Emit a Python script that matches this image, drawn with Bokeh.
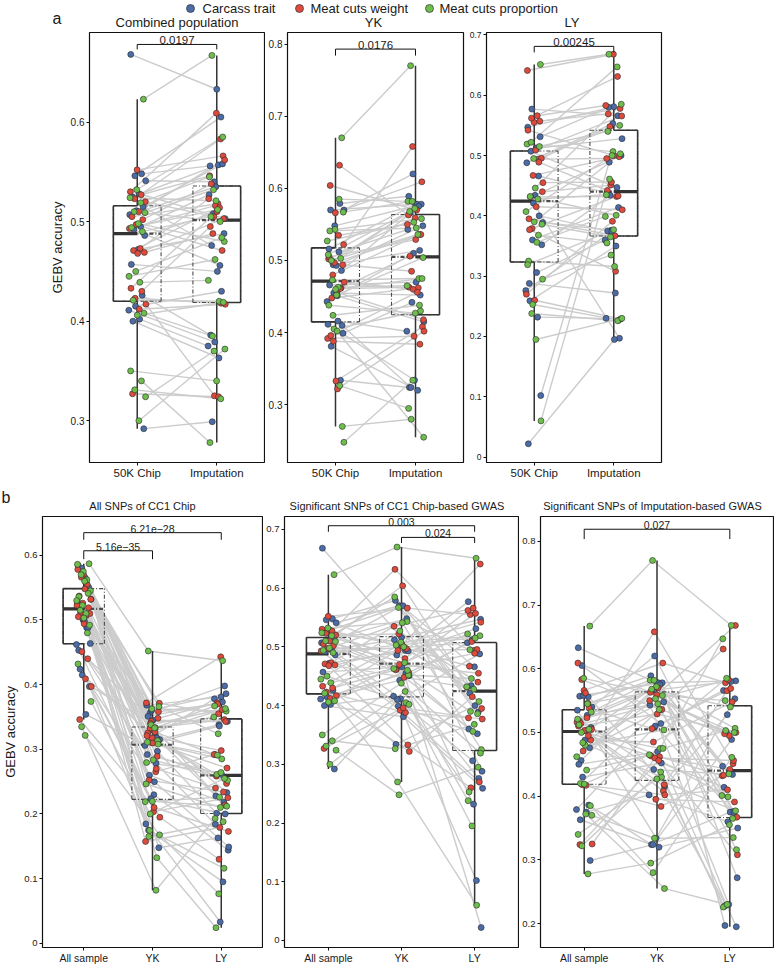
import numpy as np
from bokeh.plotting import figure
from bokeh.layouts import column, row
from bokeh.models import Range1d, FixedTicker
from bokeh.core.properties import value
from bokeh.embed import file_html
from bokeh.resources import INLINE

FONT = "Liberation Sans"
DARK = "#333333"
DASHC = "#4a4a4a"
LINEC = "#cccccc"
TXT = "#1a1a1a"

# ---------------- data ----------------
type_names = ["Carcass trait", "Meat cuts weight", "Meat cuts proportion"]
type_colors = ["#4B6CA6", "#DE4A3C", "#6DBE4C"]
trait_type = [0] * 20 + [1] * 20 + [2] * 20

# Combined population, 50K chip (also "All sample" of CC1 chip-based GWAS SNPs)
comb_chip = [0.668, 0.548, 0.546, 0.541, 0.528, 0.525, 0.515, 0.511, 0.507, 0.495, 0.492, 0.486, 0.472, 0.457, 0.426, 0.415, 0.411, 0.402, 0.400, 0.292,
             0.552, 0.530, 0.527, 0.523, 0.520, 0.510, 0.505, 0.502, 0.497, 0.493, 0.473, 0.471, 0.469, 0.468, 0.433, 0.430, 0.423, 0.417, 0.412, 0.327,
             0.623, 0.532, 0.524, 0.519, 0.510, 0.509, 0.498, 0.494, 0.490, 0.450, 0.445, 0.439, 0.421, 0.408, 0.406, 0.350, 0.340, 0.331, 0.324, 0.300]
# Combined population, imputation
comb_imp = [0.633, 0.556, 0.605, 0.540, 0.503, 0.557, 0.476, 0.558, 0.535, 0.527, 0.456, 0.508, 0.488, 0.450, 0.386, 0.430, 0.379, 0.375, 0.363, 0.299,
            0.566, 0.609, 0.546, 0.583, 0.505, 0.562, 0.518, 0.538, 0.471, 0.516, 0.523, 0.514, 0.488, 0.503, 0.510, 0.495, 0.418, 0.325, 0.417, 0.324,
            0.667, 0.585, 0.521, 0.545, 0.500, 0.532, 0.480, 0.512, 0.505, 0.484, 0.462, 0.441, 0.420, 0.385, 0.419, 0.340, 0.278, 0.322, 0.370, 0.372]
# YK, 50K chip
yk_chip = [0.516, 0.579, 0.494, 0.570, 0.451, 0.570, 0.486, 0.548, 0.4115, 0.512, 0.499, 0.399, 0.493, 0.466, 0.334, 0.455, 0.443, 0.416, 0.381, 0.410,
           0.566, 0.502, 0.632, 0.480, 0.522, 0.456, 0.604, 0.462, 0.497, 0.392, 0.535, 0.448, 0.494, 0.333, 0.505, 0.461, 0.388, 0.470, 0.322, 0.396,
           0.670, 0.543, 0.508, 0.585, 0.473, 0.567, 0.452, 0.541, 0.503, 0.405, 0.527, 0.463, 0.500, 0.270, 0.460, 0.438, 0.3265, 0.424, 0.248, 0.402]
# YK, imputation
yk_imp = [0.578, 0.589, 0.514, 0.620, 0.415, 0.578, 0.566, 0.578, 0.334, 0.543, 0.575, 0.442, 0.548, 0.470, 0.324, 0.452, 0.510, 0.402, 0.320, 0.324,
          0.609, 0.559, 0.563, 0.536, 0.658, 0.418, 0.570, 0.506, 0.536, 0.395, 0.550, 0.462, 0.485, 0.408, 0.529, 0.463, 0.384, 0.460, 0.402, 0.456,
          0.770, 0.558, 0.572, 0.582, 0.475, 0.582, 0.504, 0.545, 0.568, 0.430, 0.553, 0.465, 0.536, 0.280, 0.475, 0.427, 0.295, 0.438, 0.334, 0.255]
# LY, 50K chip
ly_chip = [0.547, 0.466, 0.577, 0.389, 0.512, 0.288, 0.531, 0.421, 0.488, 0.232, 0.507, 0.352, 0.434, 0.022, 0.400, 0.360, 0.276, 0.306, 0.259, 0.102,
           0.555, 0.641, 0.494, 0.562, 0.440, 0.509, 0.395, 0.557, 0.467, 0.270, 0.566, 0.4315, 0.4955, 0.260, 0.542, 0.489, 0.379, 0.455, 0.415, 0.377,
           0.651, 0.495, 0.519, 0.428, 0.522, 0.386, 0.446, 0.325, 0.515, 0.253, 0.407, 0.356, 0.432, 0.060, 0.390, 0.319, 0.368, 0.238, 0.295, 0.195]
# LY, imputation
ly_imp = [0.581, 0.438, 0.566, 0.376, 0.528, 0.272, 0.580, 0.197, 0.553, 0.230, 0.447, 0.434, 0.500, 0.195, 0.375, 0.414, 0.374, 0.360, 0.350, 0.489,
          0.578, 0.668, 0.495, 0.631, 0.451, 0.5655, 0.367, 0.569, 0.498, 0.391, 0.583, 0.432, 0.548, 0.229, 0.500, 0.442, 0.433, 0.456, 0.410, 0.308,
          0.668, 0.550, 0.5065, 0.435, 0.647, 0.365, 0.585, 0.316, 0.540, 0.227, 0.500, 0.399, 0.401, 0.461, 0.503, 0.377, 0.355, 0.226, 0.335, 0.230]
# All SNPs of CC1 chip
all_all = [0.584, 0.552, 0.580, 0.532, 0.565, 0.524, 0.550, 0.500, 0.528, 0.488, 0.520, 0.4636, 0.498, 0.453, 0.488, 0.415, 0.462, 0.354, 0.424, 0.397,
           0.570, 0.578, 0.555, 0.566, 0.532, 0.548, 0.537, 0.519, 0.526, 0.5226, 0.507, 0.511, 0.510, 0.494, 0.505, 0.440, 0.451, 0.397, 0.409, 0.346,
           0.587, 0.575, 0.586, 0.562, 0.570, 0.545, 0.560, 0.536, 0.541, 0.5226, 0.530, 0.510, 0.515, 0.492, 0.503, 0.432, 0.480, 0.335, 0.374, 0.3215]
all_yk = [0.3297, 0.368, 0.2785, 0.3568, 0.315, 0.2297, 0.351, 0.2969, 0.3605, 0.1846, 0.3227, 0.260, 0.1477, 0.345, 0.2918, 0.3174, 0.2236, 0.306, 0.2497, 0.175,
          0.348, 0.3174, 0.3718, 0.2651, 0.3323, 0.3713, 0.2036, 0.3251, 0.289, 0.3433, 0.1574, 0.327, 0.2523, 0.358, 0.3097, 0.321, 0.270, 0.340, 0.1949, 0.210,
          0.452, 0.3133, 0.3626, 0.2464, 0.3333, 0.1744, 0.366, 0.2836, 0.311, 0.1323, 0.338, 0.219, 0.333, 0.1651, 0.308, 0.2195, 0.2795, 0.082, 0.200, 0.1677]
all_ly = [0.233, 0.381, 0.184, 0.398, 0.338, 0.144, 0.373, 0.201, 0.386, 0.033, 0.378, 0.218, 0.163, 0.343, 0.261, 0.228, 0.200, 0.336, 0.149, 0.095,
          0.372, 0.247, 0.443, 0.292, 0.346, 0.355, 0.225, 0.3615, 0.2585, 0.343, 0.179, 0.292, 0.234, 0.370, 0.271, 0.298, 0.240, 0.214, 0.130, 0.173,
          0.437, 0.261, 0.359, 0.210, 0.367, 0.116, 0.324, 0.252, 0.285, 0.024, 0.363, 0.226, 0.350, 0.188, 0.291, 0.212, 0.264, 0.193, 0.255, 0.0765]

labels_a = ["50K Chip", "Imputation"]
labels_b = ["All sample", "YK", "LY"]
titles_a = ["Combined population", "YK", "LY"]
titles_b = ["All SNPs of CC1 Chip", "Significant SNPs of CC1 Chip-based GWAS",
            "Significant SNPs of Imputation-based GWAS"]

point_colors = [type_colors[t] for t in trait_type]


def jitter(n, g):
    return [(((i * 0.6180339887) + 0.37 * g + 0.13) % 1.0 - 0.5) * 0.22 for i in range(n)]


def make_panel(groups, labels, yr, yticks, fw, fh, bl, br, bt, bb,
               tick_fs, xlab_fs, sides, brackets, br_fs, ylabel=None):
    n = len(groups)
    p = figure(x_range=Range1d(0.4, n + 0.6), y_range=Range1d(*yr),
               frame_width=fw, frame_height=fh,
               min_border_left=bl, min_border_right=br,
               min_border_top=bt, min_border_bottom=bb,
               toolbar_location=None, tools="", output_backend="svg")
    p.grid.visible = False
    p.outline_line_color = "#111111"
    p.outline_line_width = 1.2
    p.background_fill_color = "white"
    p.border_fill_color = "white"

    xa = p.xaxis[0]
    xa.ticker = FixedTicker(ticks=list(range(1, n + 1)))
    xa.major_label_overrides = {i + 1: lab for i, lab in enumerate(labels)}
    ya = p.yaxis[0]
    ya.ticker = FixedTicker(ticks=yticks)
    ya.major_label_overrides = {t: f"{t:g}" for t in yticks}
    for ax, fs in ((xa, xlab_fs), (ya, tick_fs)):
        ax.axis_line_color = None
        ax.major_tick_out = 3
        ax.major_tick_in = 0
        ax.major_tick_line_color = "#111111"
        ax.minor_tick_line_color = None
        ax.major_label_text_font = FONT
        ax.major_label_text_font_size = fs
        ax.major_label_text_color = TXT
    xa.major_label_standoff = 1
    ya.major_label_standoff = 2
    if ylabel:
        ya.axis_label = ylabel
        ya.axis_label_text_font = FONT
        ya.axis_label_text_font_size = "13px"
        ya.axis_label_text_font_style = "normal"
        ya.axis_label_text_color = TXT
        ya.axis_label_standoff = 3

    npts = len(groups[0])
    xs_j = [[g + 1 + o for o in jitter(npts, g)] for g in range(n)]

    # connecting lines
    lx, ly = [], []
    for g in range(n - 1):
        for i in range(npts):
            lx.append([xs_j[g][i], xs_j[g + 1][i]])
            ly.append([groups[g][i], groups[g + 1][i]])
    p.multi_line(lx, ly, line_color=LINEC, line_width=1.4)

    # boxes
    w = 0.3
    for g, vals in enumerate(groups):
        c = g + 1
        v = np.asarray(vals)
        q1, med, q3 = np.percentile(v, [25, 50, 75])
        iqr = q3 - q1
        lo = v[v >= q1 - 1.5 * iqr].min()
        hi = v[v <= q3 + 1.5 * iqr].max()
        p.segment(x0=[c, c], y0=[q3, q1], x1=[c, c], y1=[hi, lo],
                  line_color=DARK, line_width=1.5)
        p.segment(x0=[c - w, c + w, c - w, c - w], y0=[q1, q1, q1, q3],
                  x1=[c - w, c + w, c + w, c + w], y1=[q3, q3, q1, q3],
                  line_color=DASHC, line_width=1.1, line_dash="4 2 1 2")
        p.segment(x0=[c - w], y0=[med], x1=[c + w], y1=[med],
                  line_color=DASHC, line_width=2.2, line_dash="4 2 1 2")
        s = sides[g]
        if s != 0:
            xo = c + s * w
            p.segment(x0=[xo, xo, xo], y0=[q1, q1, q3], x1=[xo, c, c], y1=[q3, q1, q3],
                      line_color=DARK, line_width=1.6)
            p.segment(x0=[xo], y0=[med], x1=[c], y1=[med],
                      line_color=DARK, line_width=3.2)

    # points
    for g in range(n):
        p.scatter(xs_j[g], groups[g], size=6, fill_color=point_colors,
                  line_color="#2a2a2a", line_width=0.6)

    # significance brackets
    for (g1, g2, ybar, ytick, txt) in brackets:
        p.line([g1, g1, g2, g2], [ytick, ybar, ybar, ytick], line_color="#111111", line_width=1)
        p.text(x=[(g1 + g2) / 2], y=[ybar], text=[txt], text_font=value(FONT),
               text_font_size=br_fs, text_align="center", text_baseline="bottom",
               text_color=TXT)
    return p


def header(h, texts):
    p = figure(width=770, height=h, x_range=Range1d(0, 770), y_range=Range1d(h, 0),
               min_border_left=0, min_border_right=0, min_border_top=0, min_border_bottom=0,
               toolbar_location=None, tools="", output_backend="svg",
               x_axis_location=None, y_axis_location=None)
    p.grid.visible = False
    p.outline_line_color = None
    p.background_fill_color = "white"
    p.border_fill_color = "white"
    for (xs, ys, tx, fs, align) in texts:
        p.text(x=xs, y=ys, text=tx, text_font=value(FONT), text_font_size=fs,
               text_align=align, text_baseline="middle", text_color=TXT)
    return p


# header with legend, panel letter a and titles
h1 = header(31, [
    ([202, 310, 439], [8, 8, 8], type_names, "13px", "left"),
    ([52], [18], ["a"], "16px", "left"),
    ([176.5, 373, 571.5], [22, 22, 22], titles_a, "13px", "center"),
])
h1.scatter([190, 299, 429], [8, 8, 8], size=8, fill_color=type_colors,
           line_color="#333333", line_width=0.7)

a1 = make_panel([comb_chip, comb_imp], labels_a, (0.258, 0.690), [0.3, 0.4, 0.5, 0.6],
                175, 430, 89, 1, 1, 22, "10px", "11.5px", [-1, 1],
                [(1, 2, 0.678, 0.673, "0.0197")], "11.5px", ylabel="GEBV accuracy")
a2 = make_panel([yk_chip, yk_imp], labels_a, (0.220, 0.816), [0.3, 0.4, 0.5, 0.6, 0.7, 0.8],
                176, 430, 20, 2, 1, 22, "10px", "11.5px", [-1, 1],
                [(1, 2, 0.793, 0.784, "0.0176")], "11.5px")
a3 = make_panel([ly_chip, ly_imp], labels_a, (-0.009, 0.704), [0, 0.1, 0.2, 0.3, 0.4, 0.5, 0.6, 0.7],
                175, 430, 21, 111, 1, 22, "8.5px", "11.5px", [-1, 1],
                [(1, 2, 0.681, 0.671, "0.00245")], "11.5px")

h2 = header(30, [
    ([1], [13], ["b"], "16px", "left"),
    ([142, 396.5, 652], [21, 21, 21], titles_b, "11px", "center"),
])

b1 = make_panel([all_all, all_yk, all_ly], labels_b, (-0.0065, 0.66), [0, 0.1, 0.2, 0.3, 0.4, 0.5, 0.6],
                220, 431, 40, 1, 2, 18, "9.5px", "10.5px", [-1, 0, 1],
                [(1, 3, 0.635, 0.624, "6.21e\u221228"), (1, 2, 0.607, 0.594, "5.16e\u221235")],
                "10.5px", ylabel="GEBV accuracy")
b2 = make_panel([comb_chip, yk_chip, ly_chip], labels_b, (-0.012, 0.722), [0, 0.1, 0.2, 0.3, 0.4, 0.5, 0.6, 0.7],
                234, 431, 20, 1, 2, 18, "9.5px", "10.5px", [-1, 0, 1],
                [(1, 3, 0.7063, 0.696, "0.003"), (2, 3, 0.6864, 0.6768, "0.024")], "10.5px")
b3 = make_panel([comb_imp, yk_imp, ly_imp], labels_b, (0.1625, 0.839), [0.2, 0.3, 0.4, 0.5, 0.6, 0.7, 0.8],
                233, 431, 20, 1, 2, 18, "9.5px", "10.5px", [-1, 0, 1],
                [(1, 3, 0.819, 0.8036, "0.027")], "10.5px")

page = column(h1, row(a1, a2, a3), h2, row(b1, b2, b3))
open("out.html", "w").write(file_html(page, INLINE))
